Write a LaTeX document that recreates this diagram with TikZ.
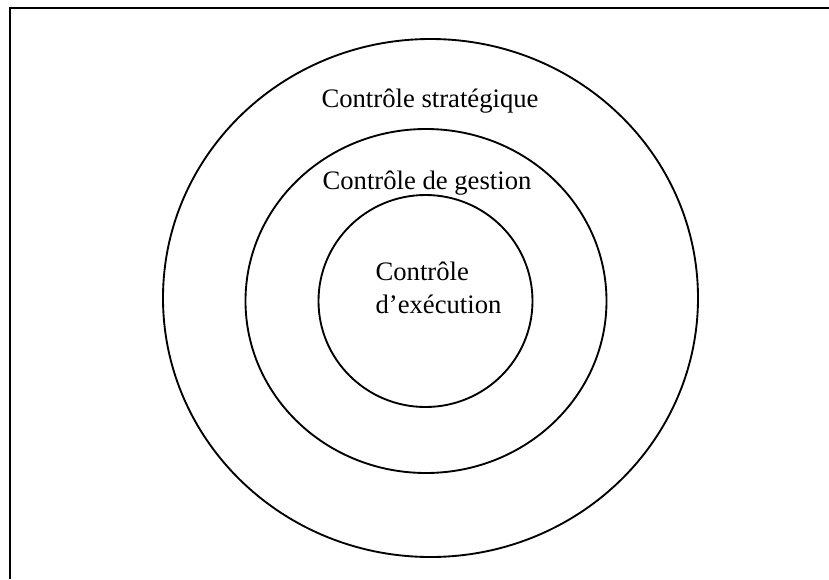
\documentclass[tikz,border=0pt]{standalone}
\usepackage{fontspec}
\setmainfont{Liberation Serif}
\usetikzlibrary{shapes.geometric}
\tikzset{
  ring/.style={draw, ellipse, line width=1.4pt, inner sep=0pt},
  ringlabel/.style={font=\fontsize{20}{25}\selectfont, inner sep=0pt}
}
\begin{document}
\begin{tikzpicture}[x=0.75pt,y=-0.75pt]
    \useasboundingbox (0,0) rectangle (829,579);
    % Frame (cut at the right and bottom)
    \coordinate (fbl) at (10,579);
    \coordinate (ftl) at (10,8);
    \coordinate (ftr) at (829,8);
    \draw[line width=2pt] (fbl) -- (ftl) -- (ftr);

    % Rings
    \node[ring, minimum width=401.25pt, minimum height=388.5pt] (strat) at (430.5,298) {};
    \node[ring, minimum width=270.75pt, minimum height=258pt] (gest) at (426,301) {};
    \node[ring, minimum width=160.5pt, minimum height=159pt] (exec) at (425.5,301) {};

    % Labels
    \node[ringlabel] (lstrat) at (430,101) {Contrôle stratégique};
    \node[ringlabel] (lgest) at (427,183) {Contrôle de gestion};
    \node[ringlabel, align=left] (lexec) at (438.5,288) {Contrôle\\d’exécution};
\end{tikzpicture}
\end{document}
